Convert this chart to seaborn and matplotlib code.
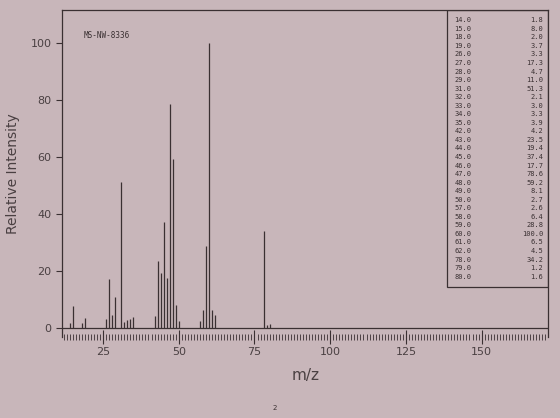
import matplotlib
matplotlib.use("Agg")
import matplotlib.pyplot as plt
import seaborn as sns
import numpy as np

mz = [14, 15, 18, 19, 26, 27, 28, 29, 31, 32, 33, 34, 35, 42, 43, 44, 45, 46, 47, 48,
      49, 50, 57, 58, 59, 60, 61, 62, 78, 79, 80]
intensity = [1.8, 8.0, 2.0, 3.7, 3.3, 17.3, 4.7, 11.0, 51.3, 2.1, 3.0, 3.3, 3.9, 4.2,
             23.5, 19.4, 37.4, 17.7, 78.6, 59.2, 8.1, 2.7, 2.6, 6.4, 28.8, 100.0, 6.5,
             4.5, 34.2, 1.2, 1.6]
sample_id = "MS-NW-8336"
x_ticks = [25, 50, 75, 100, 125, 150]
y_ticks = [0, 20, 40, 60, 80, 100]

paper = "#c8b6ba"
ink = "#3a3032"

sns.set_theme(style="ticks")
plt.rcParams["font.family"] = ["DejaVu Sans"]

fig = plt.figure(figsize=(5.6, 4.18), dpi=100)
fig.patch.set_facecolor(paper)
ax = fig.add_axes([0.111, 0.194, 0.868, 0.782])
ax.set_facecolor(paper)

ax.vlines(mz, 0, intensity, color=ink, linewidth=0.9)
ax.axhline(0, color=ink, linewidth=0.9)

ax.set_xlim(11.5, 172)
ax.set_ylim(-3, 111.5)
ax.set_xticks(x_ticks)
ax.set_yticks(y_ticks)
ax.set_xticks(np.arange(12, 172, 1), minor=True)
ax.tick_params(axis="x", which="major", direction="inout", length=10, width=0.8,
               color=ink, labelsize=8, labelcolor="#4a4042", pad=2)
ax.tick_params(axis="x", which="minor", direction="inout", length=5, width=0.6, color=ink)
ax.tick_params(axis="y", direction="out", length=4, width=0.8, color=ink,
               labelsize=8, labelcolor="#4a4042")
for s in ax.spines.values():
    s.set_color(ink)
    s.set_linewidth(0.9)
ax.spines["bottom"].set_visible(False)

ax.set_xlabel("m/z", fontsize=11, color="#4a4042", labelpad=8)
ax.set_ylabel("Relative Intensity", fontsize=10, color="#4a4042", labelpad=8)

ax.text(0.045, 0.915, sample_id, transform=ax.transAxes, fontsize=5.5,
        family="DejaVu Sans Mono", color=ink)

# peak table box
tx0 = (447 - 62) / 486
ty0 = 1 - (287 - 10) / 327
box = plt.Rectangle((tx0, ty0), 1 - tx0, 1 - ty0, transform=ax.transAxes,
                    fill=False, edgecolor=ink, linewidth=0.9)
ax.add_patch(box)
n = len(mz)
top = 1 - 6 / 327
step = (1 - ty0 - 12 / 327) / n
for i, (m, v) in enumerate(zip(mz, intensity)):
    yy = top - (i + 0.5) * step
    ax.text(tx0 + 0.015, yy, f"{m:.1f}", transform=ax.transAxes, fontsize=5.0,
            family="DejaVu Sans Mono", color=ink, va="center")
    ax.text(0.99, yy, f"{v:.1f}", transform=ax.transAxes, fontsize=5.0,
            family="DejaVu Sans Mono", color=ink, va="center", ha="right")

fig.text(275 / 560, 1 - 408 / 418, "2", fontsize=5, color=ink, ha="center", va="center")

fig.savefig("out.png", dpi=100, facecolor=paper)
